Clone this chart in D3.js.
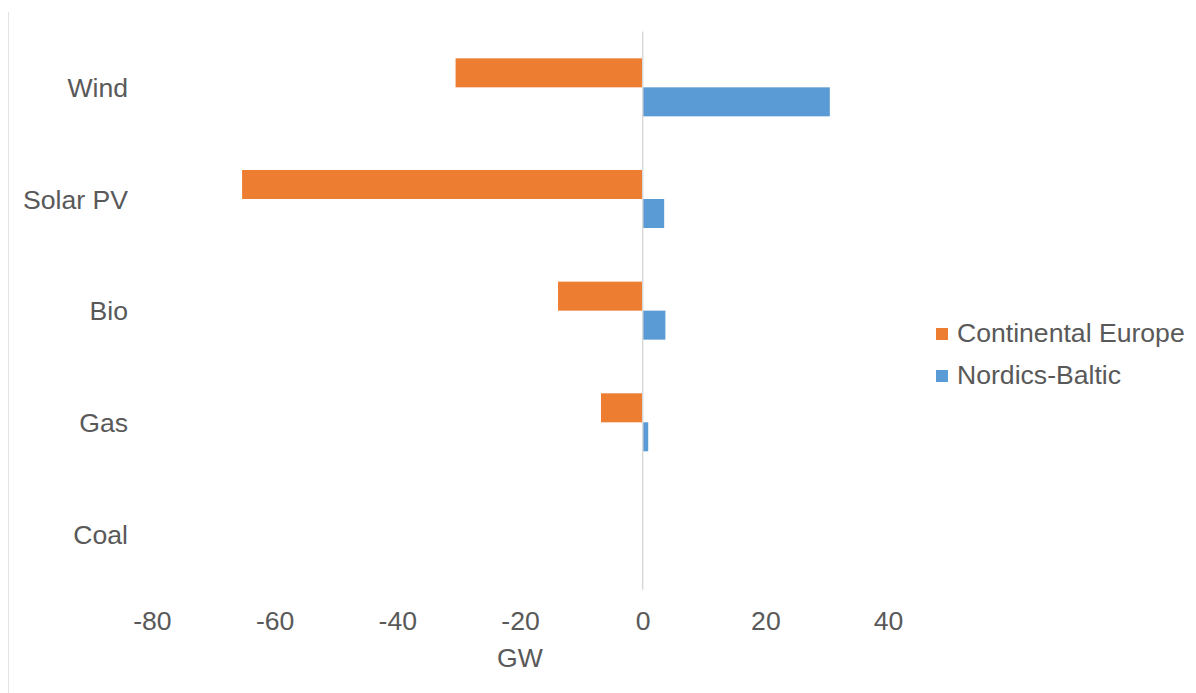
<!DOCTYPE html>
<html>
<head>
<meta charset="utf-8">
<script src="https://d3js.org/d3.v7.min.js"></script>
<style>
  body { margin: 0; background: #fff; }
  text { font-family: "Liberation Sans", Arial, sans-serif; fill: #595959; }
</style>
</head>
<body>
<div id="chart"></div>
<script>
var categories = ["Wind", "Solar PV", "Bio", "Gas", "Coal"];
var seriesNames = ["Continental Europe", "Nordics-Baltic"];
var continental = [-30.5, -65.3, -13.8, -6.8, 0];
var nordics = [30.5, 3.5, 3.7, 0.9, 0];
var xTicks = [-80, -60, -40, -20, 0, 20, 40];
var colors = ["#ED7D31", "#5B9BD5"];

var width = 1196, height = 693;
var fontSize = "26.6px";

var svg = d3.select("#chart").append("svg")
    .attr("width", width)
    .attr("height", height);

// faint frame edge on the left
svg.append("line")
    .attr("x1", 8.5).attr("x2", 8.5)
    .attr("y1", 12).attr("y2", height)
    .attr("stroke", "#e4e4e4").attr("stroke-width", 1);

var x = d3.scaleLinear().domain([-80, 40]).range([151.9, 888.1]);
var y = d3.scaleBand().domain(categories).range([31.5, 589.8]).padding(0);
var ySub = d3.scaleBand().domain(seriesNames).range([0, y.bandwidth()])
    .paddingInner(0).paddingOuter(0.925);

var rows = categories.map(function(c, i) {
  return { cat: c, values: [continental[i], nordics[i]] };
});

var groups = svg.selectAll("g.cat").data(rows).enter().append("g")
    .attr("class", "cat")
    .attr("transform", function(d) { return "translate(0," + y(d.cat) + ")"; });

groups.selectAll("rect").data(function(d) {
    return d.values.map(function(v, j) { return { name: seriesNames[j], value: v, color: colors[j] }; });
  }).enter().append("rect")
    .attr("x", function(d) { return x(Math.min(0, d.value)); })
    .attr("width", function(d) { return Math.abs(x(d.value) - x(0)); })
    .attr("y", function(d) { return ySub(d.name); })
    .attr("height", ySub.bandwidth())
    .attr("fill", function(d) { return d.color; });

// zero line
svg.append("line")
    .attr("x1", x(0)).attr("x2", x(0))
    .attr("y1", y.range()[0]).attr("y2", y.range()[1])
    .attr("stroke", "#d9d9d9").attr("stroke-width", 1.5);

// category labels
svg.selectAll("text.cat").data(categories).enter().append("text")
    .attr("class", "cat")
    .attr("x", 128)
    .attr("y", function(d) { return y(d) + y.bandwidth() / 2; })
    .attr("dy", "0.36em")
    .attr("text-anchor", "end")
    .style("font-size", fontSize)
    .text(function(d) { return d; });

// x tick labels (plain hyphen minus, like the original)
var xAxis = d3.axisBottom(x).tickValues(xTicks).tickSize(0).tickPadding(0)
    .tickFormat(function(d) { return String(d); });
var gx = svg.append("g").attr("transform", "translate(0,611)").call(xAxis);
gx.select(".domain").remove();
gx.selectAll("text")
    .attr("dy", 0).attr("y", 19)
    .style("font-size", fontSize)
    .style("font-family", "'Liberation Sans', Arial, sans-serif")
    .attr("fill", "#595959");

svg.append("text")
    .attr("x", (x.range()[0] + x.range()[1]) / 2)
    .attr("y", 667)
    .attr("text-anchor", "middle")
    .style("font-size", fontSize)
    .text("GW");

// legend
var legend = svg.selectAll("g.legend").data(seriesNames).enter().append("g")
    .attr("class", "legend")
    .attr("transform", function(d, i) { return "translate(936," + (328 + i * 42) + ")"; });
legend.append("rect")
    .attr("width", 12).attr("height", 12)
    .attr("fill", function(d, i) { return colors[i]; });
legend.append("text")
    .attr("x", 21).attr("y", 14)
    .style("font-size", fontSize)
    .text(function(d) { return d; });
</script>
</body>
</html>
